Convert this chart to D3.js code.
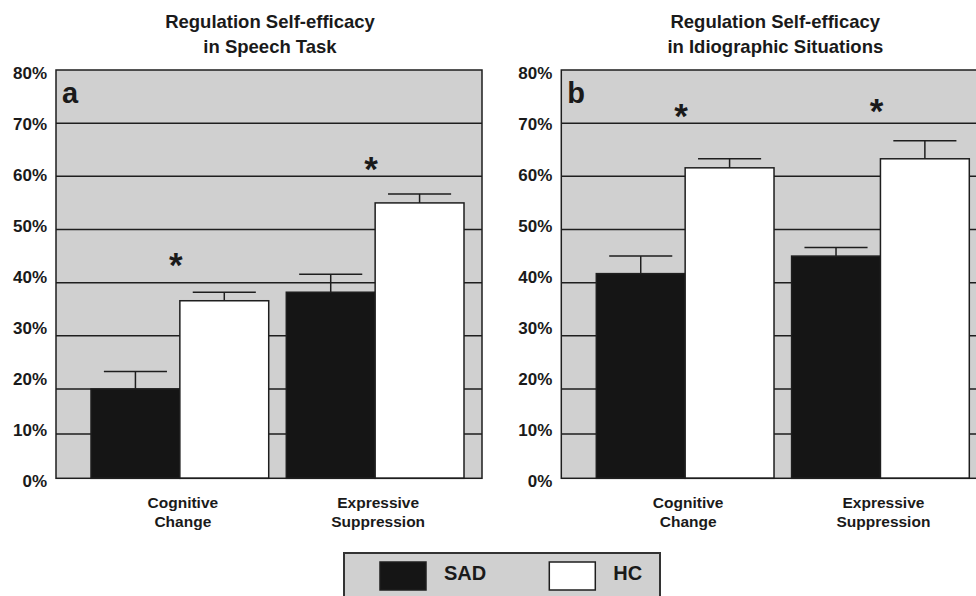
<!DOCTYPE html>
<html><head><meta charset="utf-8">
<script src="https://cdn.jsdelivr.net/npm/d3@7"></script>
<style>
body{margin:0;background:#fff;overflow:hidden}
svg{display:block}
text{font-family:"Liberation Sans",Arial,Helvetica,sans-serif;font-weight:bold;fill:#1a1a1a}
</style>
</head><body>
<svg id="chart" width="976" height="596"></svg>
<script>
// ---------- data ----------
const categories = ["Cognitive Change", "Expressive Suppression"];
const categoryLines = [["Cognitive", "Change"], ["Expressive", "Suppression"]];
const groups = ["SAD", "HC"];
const panelLetters = ["a", "b"];
const panelTitles = [["Regulation Self-efficacy", "in Speech Task"],
                     ["Regulation Self-efficacy", "in Idiographic Situations"]];
const sadSpeech = [20.0, 38.2];
const hcSpeech = [36.6, 55.0];
const sadSpeechErr = [3.3, 3.4];
const hcSpeechErr = [1.6, 1.7];
const sadIdio = [41.7, 45.0];
const hcIdio = [61.6, 63.3];
const sadIdioErr = [3.3, 1.6];
const hcIdioErr = [1.7, 3.4];
const starSpeech = [43.8, 61.9];
const starIdio = [72.0, 72.8];
const yTicks = [0, 10, 20, 30, 40, 50, 60, 70, 80];
const legendLabels = ["SAD", "HC"];

// ---------- layout ----------
const svg = d3.select("#chart");
const plotTop = 70, plotBottom = 478.3, plotW = 426;
const panelLefts = [56, 561.3];
const GRAY = "#d0d0d0", DARK = "#151515", LINE = "#1e1e1e";

// y scale (gridline spacing in the source figure is not uniform below 20%)
const y = d3.scaleLinear().domain([0, 10, 20, 80]).range([plotBottom, 434, 389, plotTop]);
// tick-label positions (evenly spaced in the source)
const yLab = d3.scaleLinear().domain([0, 80]).range([481, 73]);
const color = d3.scaleOrdinal().domain(groups).range([DARK, "#ffffff"]);

const panels = [
  {sad: sadSpeech, hc: hcSpeech, sadErr: sadSpeechErr, hcErr: hcSpeechErr, star: starSpeech},
  {sad: sadIdio, hc: hcIdio, sadErr: sadIdioErr, hcErr: hcIdioErr, star: starIdio}
];

panels.forEach((p, pi) => {
  const g = svg.append("g").attr("transform", `translate(${panelLefts[pi]},0)`);
  const x0 = d3.scaleBand().domain(categories).range([35, 408]).paddingInner(0.09).paddingOuter(0);
  const x1 = d3.scaleBand().domain(groups).range([0, x0.bandwidth()]);

  // plot background
  g.append("rect").attr("x", 0).attr("y", plotTop).attr("width", plotW)
    .attr("height", plotBottom - plotTop).attr("fill", GRAY);

  // gridlines
  g.append("g").selectAll("line").data(yTicks.filter(t => t > 0 && t < 80)).join("line")
    .attr("x1", 0).attr("x2", plotW).attr("y1", d => y(d)).attr("y2", d => y(d))
    .attr("stroke", LINE).attr("stroke-width", 1.5);

  // tick labels via axis
  const ax = g.append("g").attr("transform", "translate(-9,0)")
    .call(d3.axisLeft(yLab).tickValues(yTicks).tickFormat(d => d + "%").tickSize(0).tickPadding(0));
  ax.select(".domain").remove();
  ax.selectAll("text").attr("font-size", 17).attr("font-family", "Liberation Sans, Arial, sans-serif")
    .attr("font-weight", "bold").attr("fill", "#1a1a1a");

  // bars
  const rows = categories.map((c, i) => ({
    cat: c,
    vals: [{grp: "SAD", v: p.sad[i], e: p.sadErr[i]}, {grp: "HC", v: p.hc[i], e: p.hcErr[i]}]
  }));
  const cg = g.selectAll(".cat").data(rows).join("g").attr("class", "cat")
    .attr("transform", d => `translate(${x0(d.cat)},0)`);
  cg.selectAll("rect").data(d => d.vals).join("rect")
    .attr("x", d => x1(d.grp)).attr("width", x1.bandwidth())
    .attr("y", d => y(d.v)).attr("height", d => y(0) - y(d.v))
    .attr("fill", d => color(d.grp)).attr("stroke", LINE).attr("stroke-width", 1.5);
  // error bars
  const capW = x1.bandwidth() * 0.71;
  const eb = cg.selectAll(".eb").data(d => d.vals).join("g").attr("class", "eb");
  eb.append("line")
    .attr("x1", d => x1(d.grp) + x1.bandwidth() / 2).attr("x2", d => x1(d.grp) + x1.bandwidth() / 2)
    .attr("y1", d => y(d.v)).attr("y2", d => y(d.v + d.e))
    .attr("stroke", LINE).attr("stroke-width", 1.5);
  eb.append("line")
    .attr("x1", d => x1(d.grp) + x1.bandwidth() / 2 - capW / 2)
    .attr("x2", d => x1(d.grp) + x1.bandwidth() / 2 + capW / 2)
    .attr("y1", d => y(d.v + d.e)).attr("y2", d => y(d.v + d.e))
    .attr("stroke", LINE).attr("stroke-width", 1.5);

  // significance stars
  g.selectAll(".star").data(categories).join("text").attr("class", "star")
    .attr("x", (d, i) => x0(d) + x0.bandwidth() / 2 - 4)
    .attr("y", (d, i) => y(p.star[i]) + 15)
    .attr("text-anchor", "middle").attr("font-size", 35).text("*");

  // frame
  g.append("rect").attr("x", 0).attr("y", plotTop).attr("width", plotW)
    .attr("height", plotBottom - plotTop).attr("fill", "none")
    .attr("stroke", LINE).attr("stroke-width", 1.5);

  // panel letter
  g.append("text").attr("x", 6).attr("y", 103).attr("font-size", 29).text(panelLetters[pi]);

  // title
  const t = g.append("text").attr("text-anchor", "middle").attr("font-size", 18.5);
  panelTitles[pi].forEach((line, li) => {
    t.append("tspan").attr("x", plotW / 2 + 1).attr("y", 28 + li * 25).text(line);
  });

  // category labels
  categories.forEach((c, i) => {
    const ct = g.append("text").attr("text-anchor", "middle").attr("font-size", 15.5);
    categoryLines[i].forEach((line, li) => {
      ct.append("tspan").attr("x", x0(c) + x0.bandwidth() / 2 + 3).attr("y", 508 + li * 19).text(line);
    });
  });
});

// ---------- legend ----------
const lg = svg.append("g");
lg.append("rect").attr("x", 344).attr("y", 553).attr("width", 316).attr("height", 60)
  .attr("fill", GRAY).attr("stroke", "#333").attr("stroke-width", 2);
const lx = d3.scaleBand().domain(legendLabels).range([380, 718.6]);
lg.selectAll(".sw").data(legendLabels).join("rect").attr("class", "sw")
  .attr("x", d => lx(d)).attr("y", 562).attr("width", 46).attr("height", 28)
  .attr("fill", d => color(d)).attr("stroke", LINE).attr("stroke-width", 1.5);
lg.selectAll(".lt").data(legendLabels).join("text").attr("class", "lt")
  .attr("x", d => lx(d) + 64).attr("y", 580).attr("font-size", 20).text(d => d);
</script>
</body></html>
